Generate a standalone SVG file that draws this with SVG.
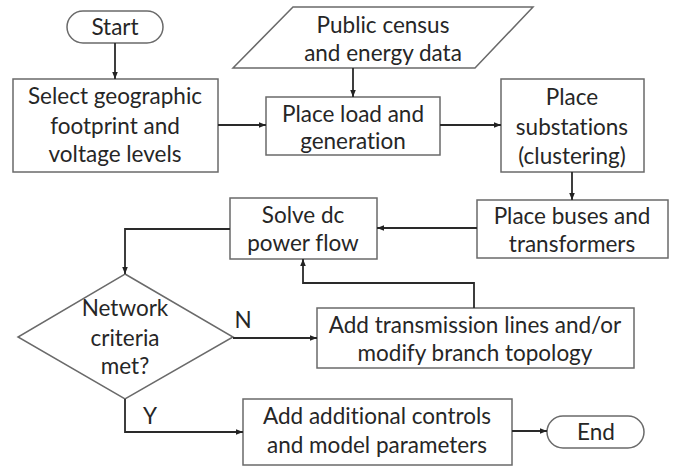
<svg xmlns="http://www.w3.org/2000/svg" width="674" height="468" viewBox="0 0 674 468">
<defs>
<marker id="ah" viewBox="0 0 10 10" refX="10" refY="5" markerWidth="7" markerHeight="7" markerUnits="userSpaceOnUse" orient="auto">
<path d="M0,1 L10,5 L0,9 z" fill="#222"/>
</marker>
<style>
.box{fill:#fff;stroke:#6a6a6a;stroke-width:1.5}
.t{font-family:Lato,"Liberation Sans",sans-serif;font-size:22.5px;fill:#262626;text-anchor:middle;font-variant-ligatures:none;font-feature-settings:"liga" 0,"dlig" 0}
.c{fill:none;stroke:#2a2a2a;stroke-width:1.8;marker-end:url(#ah)}
</style>
</defs>
<rect width="674" height="468" fill="#fff"/>
<g id="start"><rect class="box" x="67" y="11" width="96" height="32" rx="16"/><text class="t" x="115" y="35">Start</text></g>
<g id="select"><rect class="box" x="13" y="79" width="205" height="93"/><text class="t" x="115" y="104">Select geographic</text><text class="t" x="115" y="134">footprint and</text><text class="t" x="115" y="162">voltage levels</text></g>
<g id="census"><polygon class="box" points="293,7 533,7 475,68 233,68"/><text class="t" x="383" y="33">Public census</text><text class="t" x="383" y="61">and energy data</text></g>
<g id="placeload"><rect class="box" x="266" y="97" width="174" height="58"/><text class="t" x="353" y="122">Place load and</text><text class="t" x="353" y="149">generation</text></g>
<g id="substations"><rect class="box" x="501" y="79" width="143" height="93"/><text class="t" x="572" y="105">Place</text><text class="t" x="572" y="135">substations</text><text class="t" x="572" y="164">(clustering)</text></g>
<g id="buses"><rect class="box" x="477" y="200" width="191" height="58"/><text class="t" x="572" y="224">Place buses and</text><text class="t" x="572" y="252">transformers</text></g>
<g id="solve"><rect class="box" x="230" y="198" width="147" height="61"/><text class="t" x="303" y="223">Solve dc</text><text class="t" x="303" y="251">power flow</text></g>
<g id="criteria"><polygon class="box" points="125,274 233,337 125,399 18,337"/><text class="t" x="125" y="316">Network</text><text class="t" x="125" y="346">criteria</text><text class="t" x="125" y="374">met?</text></g>
<g id="addlines"><rect class="box" x="317" y="308" width="317" height="60"/><text class="t" x="475" y="333">Add transmission lines and/or</text><text class="t" x="475" y="361">modify branch topology</text></g>
<g id="addcontrols"><rect class="box" x="243" y="399" width="269" height="66"/><text class="t" x="377" y="424">Add additional controls</text><text class="t" x="377" y="453">and model parameters</text></g>
<g id="end"><rect class="box" x="547" y="416" width="97" height="32" rx="16"/><text class="t" x="596" y="440">End</text></g>
<g id="connectors">
<path class="c" d="M115,43 V79"/>
<path class="c" d="M353,68 V97"/>
<path class="c" d="M218,125 H266"/>
<path class="c" d="M440,125 H501"/>
<path class="c" d="M572,172 V200"/>
<path class="c" d="M477,228 H377"/>
<path class="c" d="M230,229 H125 V274"/>
<path class="c" d="M233,338 H317"/>
<path class="c" d="M474,308 V283 H303 V259"/>
<path class="c" d="M125,399 V432 H243"/>
<path class="c" d="M512,431 H547"/>
</g>
<g id="labels"><text class="t" x="243" y="328">N</text><text class="t" x="150" y="424">Y</text></g>
</svg>
